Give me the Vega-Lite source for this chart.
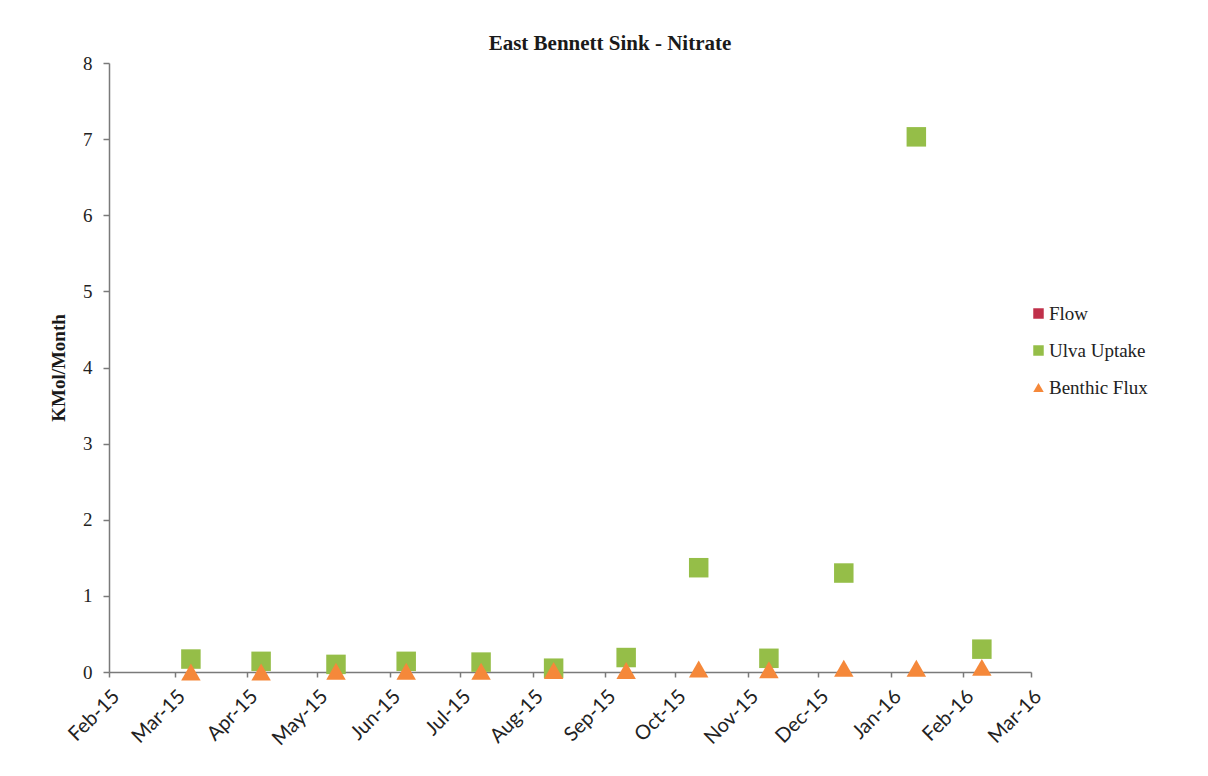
{
  "$schema": "https://vega.github.io/schema/vega-lite/v6.json",
  "autosize": "none",
  "width": 922,
  "height": 609,
  "padding": {"left": 109, "top": 63, "right": 177, "bottom": 104},
  "background": "white",
  "title": {
    "text": "East Bennett Sink - Nitrate",
    "font": "Liberation Serif",
    "fontSize": 21,
    "fontWeight": "bold",
    "color": "#1a1a1a",
    "anchor": "middle",
    "dx": 40,
    "offset": 0
  },
  "data": {
    "values": [
      {"date": "2015-03-08", "series": "Ulva Uptake", "kmol": 0.17},
      {"date": "2015-04-07", "series": "Ulva Uptake", "kmol": 0.14},
      {"date": "2015-05-09", "series": "Ulva Uptake", "kmol": 0.1},
      {"date": "2015-06-08", "series": "Ulva Uptake", "kmol": 0.14},
      {"date": "2015-07-10", "series": "Ulva Uptake", "kmol": 0.13},
      {"date": "2015-08-10", "series": "Ulva Uptake", "kmol": 0.05},
      {"date": "2015-09-10", "series": "Ulva Uptake", "kmol": 0.19},
      {"date": "2015-10-11", "series": "Ulva Uptake", "kmol": 1.37},
      {"date": "2015-11-10", "series": "Ulva Uptake", "kmol": 0.18},
      {"date": "2015-12-12", "series": "Ulva Uptake", "kmol": 1.3},
      {"date": "2016-01-12", "series": "Ulva Uptake", "kmol": 7.03},
      {"date": "2016-02-09", "series": "Ulva Uptake", "kmol": 0.3},
      {"date": "2015-03-08", "series": "Benthic Flux", "kmol": 0.0},
      {"date": "2015-04-07", "series": "Benthic Flux", "kmol": 0.0},
      {"date": "2015-05-09", "series": "Benthic Flux", "kmol": 0.01},
      {"date": "2015-06-08", "series": "Benthic Flux", "kmol": 0.01},
      {"date": "2015-07-10", "series": "Benthic Flux", "kmol": 0.01},
      {"date": "2015-08-10", "series": "Benthic Flux", "kmol": 0.02},
      {"date": "2015-09-10", "series": "Benthic Flux", "kmol": 0.02},
      {"date": "2015-10-11", "series": "Benthic Flux", "kmol": 0.04},
      {"date": "2015-11-10", "series": "Benthic Flux", "kmol": 0.03},
      {"date": "2015-12-12", "series": "Benthic Flux", "kmol": 0.05},
      {"date": "2016-01-12", "series": "Benthic Flux", "kmol": 0.05},
      {"date": "2016-02-09", "series": "Benthic Flux", "kmol": 0.06}
    ]
  },
  "mark": {"type": "point", "filled": true, "opacity": 1, "size": 380, "clip": false},
  "encoding": {
    "x": {
      "field": "date",
      "type": "temporal",
      "scale": {
        "type": "utc",
        "domain": [
          {"year": 2015, "month": 2, "date": 1, "utc": true},
          {"year": 2016, "month": 3, "date": 1, "utc": true}
        ]
      },
      "axis": {
        "title": null,
        "labelExpr": "utcFormat(datum.value, '%b-%y')",
        "tickCount": {"interval": "month", "step": 1},
        "labelAngle": -45,
        "labelAlign": "right",
        "labelBaseline": "top",
        "labelFont": "Lato",
        "labelFontSize": 20,
        "labelColor": "#222222",
        "labelPadding": 9,
        "labelOverlap": false,
        "labelFlush": false,
        "domainColor": "#7a7a7a",
        "domainWidth": 1.5,
        "tickColor": "#7a7a7a",
        "tickSize": 5,
        "tickWidth": 1.5,
        "grid": false
      }
    },
    "y": {
      "field": "kmol",
      "type": "quantitative",
      "scale": {"domain": [0, 8], "nice": false, "zero": true},
      "axis": {
        "title": "KMol/Month",
        "titleFont": "Liberation Serif",
        "titleFontSize": 19,
        "titleFontWeight": "bold",
        "titleColor": "#1a1a1a",
        "titlePadding": 14,
        "values": [0, 1, 2, 3, 4, 5, 6, 7, 8],
        "labelFont": "Liberation Serif",
        "labelFontSize": 19,
        "labelColor": "#222222",
        "labelPadding": 11,
        "domainColor": "#7a7a7a",
        "domainWidth": 1.5,
        "tickColor": "#7a7a7a",
        "tickSize": 6,
        "tickWidth": 1.5,
        "grid": false
      }
    },
    "color": {
      "field": "series",
      "type": "nominal",
      "scale": {
        "domain": ["Flow", "Ulva Uptake", "Benthic Flux"],
        "range": ["#C0304A", "#95BE48", "#F5883A"]
      },
      "legend": {
        "title": null,
        "orient": "none",
        "legendX": 920,
        "legendY": 241,
        "labelFont": "Liberation Serif",
        "labelFontSize": 19,
        "labelColor": "#222222",
        "symbolSize": 110,
        "rowPadding": 17,
        "labelOffset": 1
      }
    },
    "shape": {
      "field": "series",
      "type": "nominal",
      "scale": {
        "domain": ["Flow", "Ulva Uptake", "Benthic Flux"],
        "range": ["square", "square", "triangle-up"]
      },
      "legend": null
    }
  },
  "config": {
    "view": {"stroke": null}
  }
}
